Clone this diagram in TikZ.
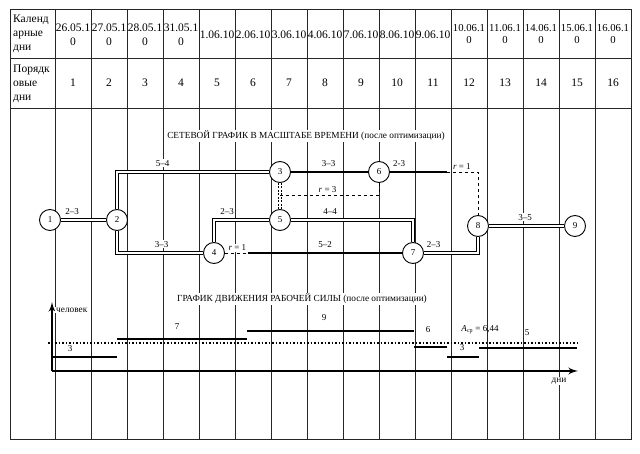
\documentclass[tikz,border=0pt]{standalone}
\usepackage{fontspec}
\setmainfont{Liberation Serif}
\usetikzlibrary{arrows,automata}

\begin{document}
\begin{tikzpicture}[x=1pt,y=-1pt,>=latex',font=\fontsize{9}{10}\selectfont]

        \tikzstyle{every state}=[fill=white,draw=black,text=black,minimum size=21pt,inner sep=0pt,line width=0.9pt]
        \tikzstyle{grid}=[line width=0.7pt,black!85]
        \tikzstyle{cell}=[font=\fontsize{11.5}{14}\selectfont,align=center,inner sep=0pt]
        \tikzstyle{title}=[fill=white,inner sep=1pt,font=\fontsize{9.3}{10}\selectfont]
        \tikzstyle{crit}=[double,double distance=1.7pt,line width=1.6pt]
        \tikzstyle{work}=[line width=1.5pt]
        \tikzstyle{slack}=[dashed,line width=0.8pt]
        \tikzstyle{dummy}=[dash pattern=on 2pt off 1.5pt,double,double distance=1.4pt,line width=0.9pt]
        \tikzstyle{lbl}=[fill=white,inner sep=1pt,above=4pt]
        \tikzstyle{res}=[fill=white,inner sep=1pt,above=1pt]
        \tikzstyle{bar}=[line width=1.8pt]
        \tikzstyle{axis}=[line width=2.3pt,->]

        \useasboundingbox (0,0) rectangle (640,454);

        % table
        \draw[grid] (10,9) rectangle (631,439) (10,58) -- (631,58) (10,108) -- (631,108);
        \foreach \x in {55,91,...,595}
            \draw[grid] (\x,9) -- (\x,439);

        \node[cell,align=left,anchor=west] (cal) at (13,34) {Календ\\арные\\дни};
        \node[cell,align=left,anchor=west] (ord) at (13,84) {Порядк\\овые\\дни};
        \foreach \d [count=\i] in {{26.05.1\\0},{27.05.1\\0},{28.05.1\\0},{31.05.1\\0},1.06.10,2.06.10,3.06.10,4.06.10,7.06.10,8.06.10,9.06.10}
            \node[cell] (d\i) at (37+36*\i,35) {\d};
        \foreach \d [count=\i from 12] in {10.06.1,11.06.1,14.06.1,15.06.1,16.06.1}
            \node[cell,font=\fontsize{10.7}{11.5}\selectfont] (d\i) at (37+36*\i,34) {\d\\0};
        \foreach \i in {1,...,16}
            \node[cell] (n\i) at (37+36*\i,83) {\i};

        % network
        \node[title] (net) at (306,136) {СЕТЕВОЙ ГРАФИК В МАСШТАБЕ ВРЕМЕНИ (после оптимизации)};

        \node[state] (1) at (50,220)  {1};
        \node[state] (2) at (117,220) {2};
        \node[state] (3) at (280,172) {3};
        \node[state] (4) at (214,253) {4};
        \node[state] (5) at (280,220) {5};
        \node[state] (6) at (379,172) {6};
        \node[state] (7) at (413,253) {7};
        \node[state] (8) at (478,226) {8};
        \node[state] (9) at (575,226) {9};

        \coordinate (s4) at (248,253);
        \coordinate (s6) at (447,172);
        \coordinate (s5) at (280,195);

        \draw[crit] (1) -- node[lbl,pos=0.25] (a12) {2–3} (2);
        \draw[crit] (2) |- node[lbl,pos=0.65] (a23) {5–4} (3);
        \draw[crit] (2) |- node[lbl,pos=0.76] (a24) {3–3} (4);
        \draw[crit] (4) |- node[lbl,pos=0.62] (a45) {2–3} (5);
        \draw[crit] (5) -| node[lbl,pos=0.16] (a57) {4–4} (7);
        \draw[crit] (7) -| node[lbl,pos=0.09] (a78) {2–3} (8);
        \draw[crit] (8) -- node[lbl,pos=0.48] (a89) {3–5} (9);
        \draw[work] (3) -- node[lbl,pos=0.49] (a36) {3–3} (6);
        \draw[work] (6) -- node[lbl,pos=0.16] (a68) {2-3} (s6);
        \draw[work] (s4) -- node[lbl,pos=0.5] (a47) {5–2} (7);
        \draw[slack] (4) -- node[res,pos=0.54] (r47) {\textit{r} = 1} (s4);
        \draw[slack] (s6) -| node[res,pos=0.24] (r68) {\textit{r} = 1} (8);
        \draw[slack] (s5) -| node[res,pos=0.24] (r56) {\textit{r} = 3} (6);
        \draw[dummy] (3) -- (5);

        % resource chart
        \node[title] (load) at (302,299) {ГРАФИК ДВИЖЕНИЯ РАБОЧЕЙ СИЛЫ (после оптимизации)};

        \coordinate (o) at (52,371);
        \coordinate (ytop) at (52,302);
        \coordinate (xend) at (578,371);
        \draw[line width=1.5pt,dotted] (48,343) -- (578,343);
        \foreach \a/\b/\y/\n/\lx/\ly [count=\i] in {52/117/357/3/70/349,117/247/339/7/177/327,247/414/331/9/324/318,414/447/347/6/428/330,447/479/357/3/462/348,479/577/348/5/527/333}{
            \draw[bar] (\a,\y) -- (\b,\y);
            \node (w\i) at (\lx,\ly) {\n};
        }
        \draw[axis] (o) -- (ytop);
        \draw[axis] (o) -- (xend);
        \node[title,anchor=west] (men) at (55,310) {человек};
        \node[title] (days) at (559,381) {дни};
        \node (avg) at (480,330) {\textit{A}\textsubscript{ср} = 6,44};

\end{tikzpicture}
\end{document}
